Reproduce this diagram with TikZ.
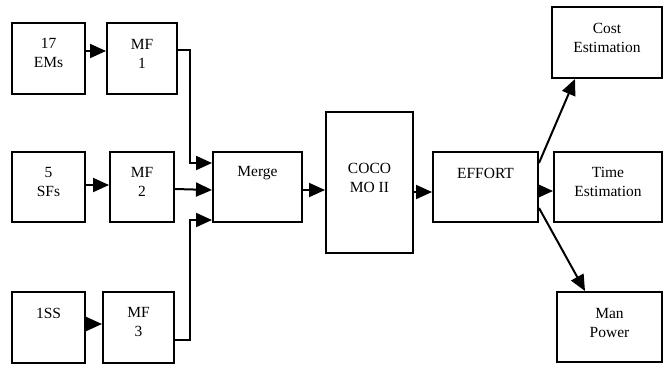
\documentclass[tikz,border=0pt]{standalone}
\usepackage{fontspec}
\setmainfont{Liberation Serif}
\usetikzlibrary{arrows.meta}

\begin{document}
\begin{tikzpicture}[
  x=1pt, y=-1pt,
  box/.style={draw, line width=2pt, inner sep=0pt},
  lbl/.style={align=center, inner sep=0pt, font=\fontsize{15.5}{19}\selectfont},
  arr/.style={line width=2pt, -{Triangle[length=16pt, width=14pt]}},
]
\useasboundingbox (0,0) rectangle (664,365);

% input boxes
\node[box, minimum width=73, minimum height=71] (e1) at (48.5,58.5) {};
\node[box, minimum width=73, minimum height=70] (s1) at (48.5,187) {};
\node[box, minimum width=73, minimum height=71] (ss) at (48.5,327.5) {};

% membership function boxes
\node[box, minimum width=70, minimum height=71] (m1) at (142,58.5) {};
\node[box, minimum width=64, minimum height=70] (m2) at (142,187) {};
\node[box, minimum width=71, minimum height=71] (m3) at (138.5,327.5) {};

% processing chain
\node[box, minimum width=89,  minimum height=70]  (mg) at (257.5,187) {};
\node[box, minimum width=87,  minimum height=141] (cc) at (369.5,182.5) {};
\node[box, minimum width=105, minimum height=70]  (ef) at (485.5,187) {};

% outputs
\node[box, minimum width=110, minimum height=71] (ce) at (607,42.5) {};
\node[box, minimum width=108, minimum height=70] (te) at (608,187) {};
\node[box, minimum width=105, minimum height=70] (mp) at (609.5,327) {};

% labels
\node[lbl] (e1t) at (48.5,53)  {17\\EMs};
\node[lbl] (s1t) at (48.5,182) {5\\SFs};
\node[lbl] (sst) at (48.5,313) {1SS};
\node[lbl] (m1t) at (142,54)   {MF\\1};
\node[lbl] (m2t) at (142,182)  {MF\\2};
\node[lbl] (m3t) at (138.5,321.5) {MF\\3};
\node[lbl] (mgt) at (257.5,173) {Merge};
\node[lbl] (cct) at (369.5,178) {COCO\\MO II};
\node[lbl] (eft) at (485.5,173) {EFFORT};
\node[lbl] (cet) at (607,37.5)  {Cost\\Estimation};
\node[lbl] (tet) at (608,182)   {Time\\Estimation};
\node[lbl] (mpt) at (609.5,322.5) {Man\\Power};

% connectors
\draw[arr] ([yshift=7.5]e1.east) -- ([yshift=7.5]m1.west);
\draw[arr] ([yshift=2]s1.east) -- ([yshift=2]m2.west);
\draw[arr] ([yshift=3.5]ss.east) -- ([yshift=3.5]m3.west);

\draw[arr] ([yshift=8.5]m1.east) -- ++(12,0) |- ([yshift=24]mg.west);
\draw[arr] ([yshift=-2]m2.east) -- ([yshift=-3]mg.west);
\draw[arr] ([yshift=-12.5]m3.east) -- ++(15,0) |- ([yshift=-33]mg.west);

\draw[arr] ([yshift=-3]mg.east) -- ([yshift=-7.5]cc.west);
\draw[arr] ([yshift=-9.5]cc.east) -- ([yshift=-5]ef.west);

\draw[arr] ([yshift=24]ef.east) -- ([xshift=-32]ce.south);
\draw[arr] ([yshift=-4]ef.east) -- ([yshift=-4]te.west);
\draw[arr] ([yshift=-21]ef.east) -- ([xshift=-24.5]mp.north);
\end{tikzpicture}
\end{document}
